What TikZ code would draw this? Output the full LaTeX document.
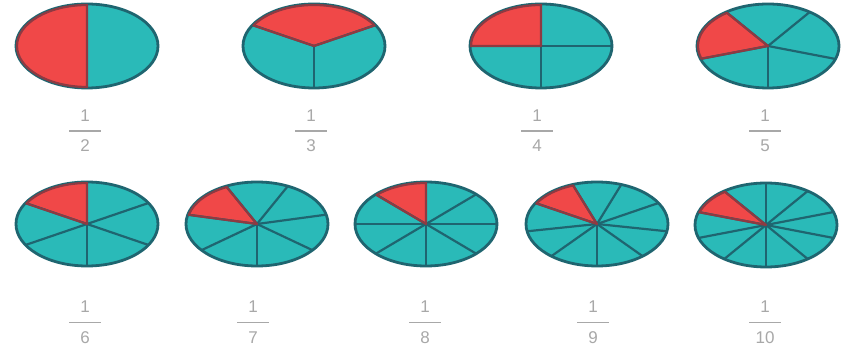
\documentclass[tikz,border=0pt]{standalone}
\usepackage{fontspec}
\setmainfont{Liberation Sans}
\usetikzlibrary{calc}
\definecolor{pieteal}{HTML}{2ABAB8}
\definecolor{piered}{HTML}{F04848}
\definecolor{pieedge}{HTML}{1F6570}
\definecolor{rededge}{HTML}{8E3A42}
\definecolor{fracgray}{HTML}{A8A8A8}
\tikzset{
  spoke/.style={draw=pieedge, line width=2.2pt},
  rim/.style={draw=pieedge, line width=2.8pt},
  redwedge/.style={fill=piered, draw=rededge, line width=2.2pt, line join=round},
  digit/.style={text=fracgray, font=\fontsize{17}{17}\selectfont, inner sep=0pt},
  fracbar/.style={draw=fracgray, line width=1.8pt}
}
% #1 center name, #2 number of parts, #3 first spoke angle, #4 red start angle
\newcommand{\mypie}[4]{%
  \fill[pieteal] (#1) ellipse[x radius=71pt, y radius=42pt];
  \pgfmathsetmacro{\mystep}{360/#2}
  \pgfmathsetmacro{\myredend}{#4+\mystep}
  \fill[piered] (#1) -- +(#4:71pt and 42pt) arc[start angle=#4, end angle=\myredend, x radius=71pt, y radius=42pt] -- cycle;
  \foreach \k in {1,...,#2}{%
    \pgfmathsetmacro{\myang}{#3+(\k-1)*\mystep}
    \draw[spoke] (#1) -- +(\myang:71pt and 42pt);
  }
  \draw[rim] (#1) ellipse[x radius=71pt, y radius=42pt];
  \draw[redwedge, fill=none] (#1) -- +(#4:70pt and 41pt) arc[start angle=#4, end angle=\myredend, x radius=70pt, y radius=41pt] -- cycle;
}
% #1 name, #2 x, #3 numerator y, #4 denominator y, #5 denominator
\newcommand{\myfrac}[5]{%
  \node[digit] (n#1) at (#2,#3) {1};
  \node[digit] (d#1) at (#2,#4) {#5};
  \draw[fracbar] ($(n#1)!0.5!(d#1)+(-16,0)$) -- ($(n#1)!0.5!(d#1)+(16,0)$);
}
\begin{document}
\begin{tikzpicture}[x=1pt,y=1pt]
\useasboundingbox[fill=white] (0,0) rectangle (850,350);
\coordinate (p2) at (87,304);
\coordinate (p3) at (314,304);
\coordinate (p4) at (541,304);
\coordinate (p5) at (768,304);
\coordinate (p6) at (87,126);
\coordinate (p7) at (257,126);
\coordinate (p8) at (426,126);
\coordinate (p9) at (597,126);
\coordinate (p10) at (766,125);
\mypie{p2}{2}{90}{90}
\mypie{p3}{3}{30}{30}
\mypie{p4}{4}{0}{90}
\mypie{p5}{5}{270}{126}
\mypie{p6}{6}{30}{90}
\mypie{p7}{7}{270}{115.714}
\mypie{p8}{8}{0}{90}
\mypie{p9}{9}{270}{110}
\mypie{p10}{10}{18}{126}
\myfrac{2}{85}{234}{204}{2}
\myfrac{3}{311}{234}{204}{3}
\myfrac{4}{537}{234}{204}{4}
\myfrac{5}{765}{234}{204}{5}
\myfrac{6}{85}{43}{12}{6}
\myfrac{7}{253}{43}{12}{7}
\myfrac{8}{425}{43}{12}{8}
\myfrac{9}{593}{43}{12}{9}
\myfrac{10}{765}{43}{12}{10}
\end{tikzpicture}
\end{document}
